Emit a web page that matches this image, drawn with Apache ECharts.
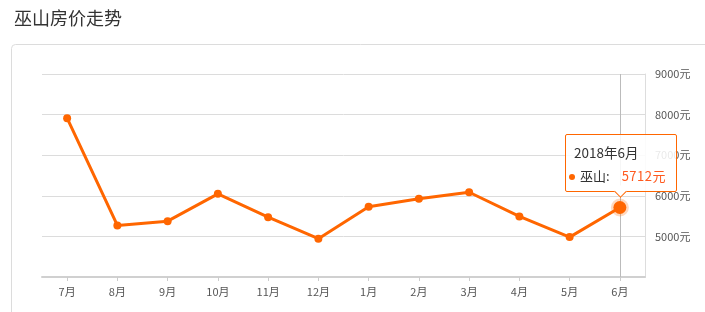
<!DOCTYPE html>
<html>
<head>
<meta charset="utf-8">
<script src="https://cdn.jsdelivr.net/npm/echarts@6/dist/echarts.min.js"></script>
<style>
html,body{margin:0;padding:0;background:#fff;}
#chart{width:705px;height:312px;}
</style>
</head>
<body>
<div id="chart"></div>
<script>
const titleText = "巫山房价走势";
const seriesName = "巫山";
const years = ["2017","2017","2017","2017","2017","2017","2018","2018","2018","2018","2018","2018"];
const months = ["7月","8月","9月","10月","11月","12月","1月","2月","3月","4月","5月","6月"];
const prices = [7913, 5270, 5375, 6048, 5474, 4944, 5729, 5925, 6087, 5491, 4983, 5712];
const yTicks = [4000, 5000, 6000, 7000, 8000, 9000];
const unit = "元";
const activeIndex = 11;

const font = '"Noto Sans CJK SC", "Microsoft YaHei", sans-serif';
const chart = echarts.init(document.getElementById('chart'), null, {renderer: 'canvas'});

const seriesData = prices.map((v, i) => i === activeIndex ? {
  value: v,
  symbolSize: 13,
  itemStyle: {color: '#ff6600', borderColor: 'rgba(255,102,0,0.25)', borderWidth: 5}
} : v);

chart.setOption({
  animation: false,
  textStyle: {fontFamily: font},
  title: {
    text: titleText, left: 9, top: 4,
    textStyle: {fontSize: 18, fontWeight: 'normal', color: '#333', fontFamily: font}
  },
  graphic: [{
    type: 'rect', z: -10, silent: true,
    shape: {x: 11.5, y: 44.5, width: 740, height: 320, r: 4},
    style: {fill: 'none', stroke: '#dcdcdc', lineWidth: 1}
  }],
  grid: {left: 42, right: 60, top: 74, bottom: 35, containLabel: false},
  tooltip: {
    trigger: 'item',
    triggerOn: 'none',
    alwaysShowContent: true,
    transitionDuration: 0,
    backgroundColor: 'rgba(255,255,255,0.87)',
    borderColor: '#ff6600',
    borderWidth: 1,
    padding: [6, 8, 4, 8],
    extraCssText: 'border-radius:2px;box-shadow:none;overflow:visible;border-color:#ff6600 !important;',
    textStyle: {color: '#333', fontSize: 13, fontFamily: font},
    position: function (point, params, dom, rect, size) {
      const p = chart.convertToPixel({seriesIndex: 0}, [activeIndex, prices[activeIndex]]);
      return [p[0] - 55, p[1] - 15 - size.contentSize[1]];
    },
    formatter: function (p) {
      const i = p.dataIndex;
      return '<div style="width:94px;">' +
        '<div style="line-height:22px;font-size:13.5px;color:#333;">' + years[i] + '年' + months[i] + '</div>' +
        '<div style="line-height:22px;font-size:13px;color:#333;margin-top:2px;white-space:nowrap;">' +
        '<span style="display:inline-block;width:6px;height:6px;border-radius:50%;background:#ff6600;margin-left:-5px;margin-right:5px;vertical-align:middle;"></span>' +
        seriesName + ':<span style="display:inline-block;margin-left:12px;color:#ff5a1f;font-size:13px;letter-spacing:0.5px;">' + prices[i] + unit + '</span></div>' +
        '</div>' +
        '<div style="position:absolute;left:50%;bottom:-5px;width:8px;height:8px;margin-left:-5px;background:#fff;' +
        'border-right:1px solid #ff6600;border-bottom:1px solid #ff6600;transform:rotate(45deg);"></div>';
    }
  },
  xAxis: {
    type: 'category',
    data: months,
    boundaryGap: true,
    axisLine: {show: true, lineStyle: {color: '#d0d0d0', width: 2}},
    axisTick: {show: true, alignWithLabel: true, length: 4, lineStyle: {color: '#ccc'}},
    axisLabel: {color: '#555', fontSize: 11, margin: 9, fontFamily: font},
    splitLine: {show: false}
  },
  yAxis: {
    type: 'value',
    position: 'right',
    min: yTicks[0],
    max: yTicks[yTicks.length - 1],
    interval: 1000,
    axisLine: {show: true, lineStyle: {color: '#ddd', width: 1}},
    axisTick: {show: false},
    axisLabel: {
      color: '#555', fontSize: 11, margin: 10, fontFamily: font,
      showMinLabel: false,
      formatter: function (v) { return v + unit; }
    },
    splitLine: {show: true, lineStyle: {color: '#dcdcdc', width: 1}}
  },
  series: [{
    name: seriesName,
    type: 'line',
    data: seriesData,
    symbol: 'circle',
    symbolSize: 8,
    lineStyle: {color: '#ff6600', width: 3},
    itemStyle: {color: '#ff6600'},
    emphasis: {disabled: true},
    markLine: {
      silent: true,
      symbol: 'none',
      label: {show: false},
      lineStyle: {color: '#bbb', width: 1, type: 'solid'},
      data: [{xAxis: activeIndex}],
      z: 1
    },
    z: 3
  }]
});

chart.dispatchAction({type: 'showTip', seriesIndex: 0, dataIndex: activeIndex});
</script>
</body>
</html>
